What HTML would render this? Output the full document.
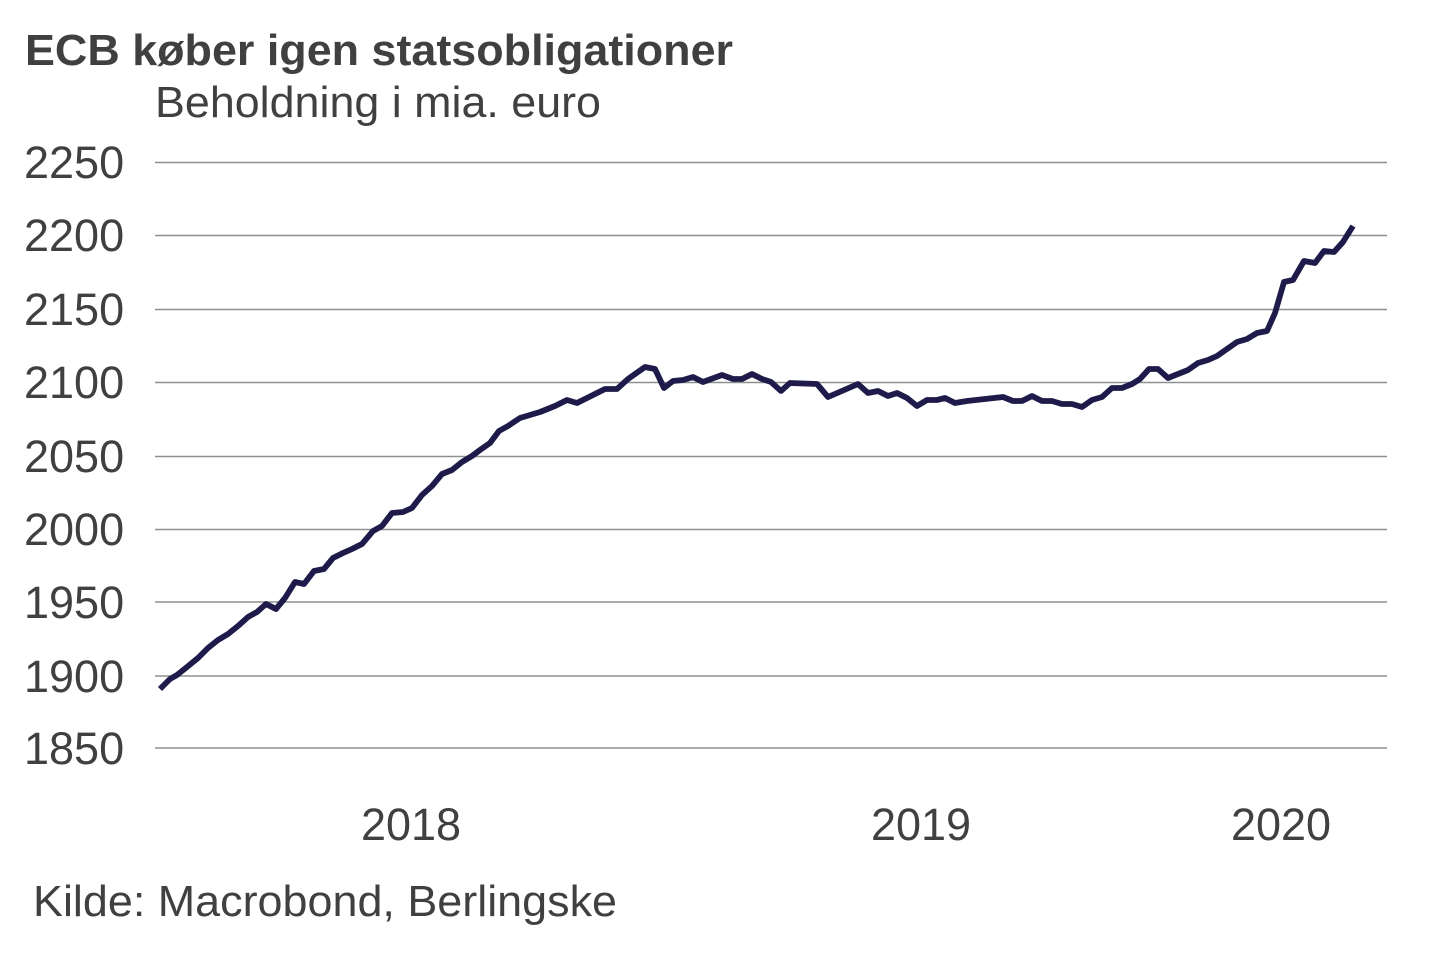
<!DOCTYPE html>
<html>
<head>
<meta charset="utf-8">
<style>
  html,body{margin:0;padding:0;background:#fff;}
  svg{display:block;}
  text{font-family:"Liberation Sans", Arial, sans-serif; fill:#404040;}
</style>
</head>
<body>
<svg width="1440" height="960" viewBox="0 0 1440 960" xmlns="http://www.w3.org/2000/svg">
  <rect width="1440" height="960" fill="#fff"/>
  <text x="25" y="65" font-size="44" font-weight="bold" textLength="708" lengthAdjust="spacingAndGlyphs">ECB køber igen statsobligationer</text>
  <text x="155" y="117" font-size="44" textLength="446" lengthAdjust="spacingAndGlyphs">Beholdning i mia. euro</text>

  <g stroke="#8f8f8f" stroke-width="1.6">
    <line x1="155" y1="162.5" x2="1387" y2="162.5"/>
    <line x1="155" y1="235.5" x2="1387" y2="235.5"/>
    <line x1="155" y1="309.5" x2="1387" y2="309.5"/>
    <line x1="155" y1="382.5" x2="1387" y2="382.5"/>
    <line x1="155" y1="456.5" x2="1387" y2="456.5"/>
    <line x1="155" y1="529.5" x2="1387" y2="529.5"/>
    <line x1="155" y1="602" x2="1387" y2="602"/>
    <line x1="155" y1="676" x2="1387" y2="676"/>
    <line x1="155" y1="748" x2="1387" y2="748"/>
  </g>

  <g font-size="45">
    <text x="24" y="178">2250</text>
    <text x="24" y="251">2200</text>
    <text x="24" y="325">2150</text>
    <text x="24" y="398">2100</text>
    <text x="24" y="472">2050</text>
    <text x="24" y="545">2000</text>
    <text x="24" y="618">1950</text>
    <text x="24" y="692">1900</text>
    <text x="24" y="764">1850</text>
  </g>

  <g font-size="45" text-anchor="middle">
    <text x="411" y="840">2018</text>
    <text x="921" y="840">2019</text>
    <text x="1281" y="840">2020</text>
  </g>

  <text x="33" y="916" font-size="44" textLength="584" lengthAdjust="spacingAndGlyphs">Kilde: Macrobond, Berlingske</text>

  <polyline fill="none" stroke="#1e1b4a" stroke-width="5.8" stroke-linejoin="round" stroke-linecap="butt"
    points="160,689 170,679 177,675 187,667 198,658 208,648 218,640 228,634 238,626 248,617 257,612 266,604 276,609 285,598 295,582 304,584 314,571 324,569 333,558 343,553 352,549 362,544 373,531 382,526 392,513 403,512 412,508 422,495 432,486 442,474 452,470 462,462 472,456 480,450 490,443 499,431 508,426 520,418 540,412 555,406 567,400 577,403 605,389 617,389 628,379 645,367 655,369 664,388 673,381 683,380 693,377 703,382 722,375 733,379 742,379 752,374 762,379 771,382 781,391 790,383 817,384 828,397 858,384 868,393 878,391 888,396 897,393 907,398 917,406 927,400 937,400 945,398 955,403 967,401 1003,397 1013,401 1022,401 1032,396 1042,401 1052,401 1062,404 1072,404 1082,407 1092,400 1102,397 1112,388 1122,388 1132,384 1140,379 1149,369 1158,369 1168,378 1178,374 1188,370 1198,363 1208,360 1217,356 1227,349 1237,342 1247,339 1257,333 1267,331 1275,313 1284,282 1293,280 1304,261 1315,263 1324,251 1334,252 1343,242 1353,226"/>
</svg>
</body>
</html>
